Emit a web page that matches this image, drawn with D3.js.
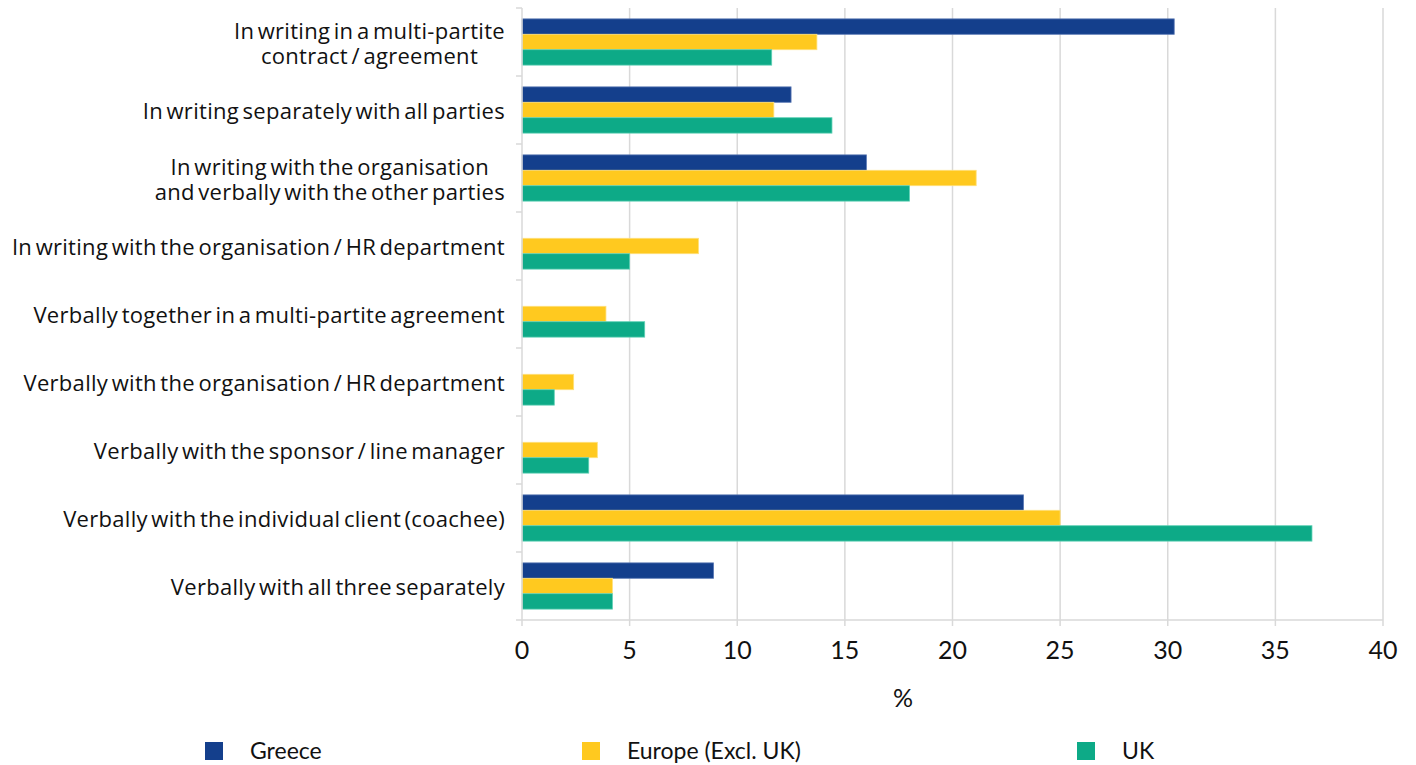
<!DOCTYPE html>
<html>
<head>
<meta charset="utf-8">
<script src="https://cdn.jsdelivr.net/npm/d3@7"></script>
<style>
  body { margin: 0; background: #fff; }
  svg text { fill: #111; }
</style>
</head>
<body>
<div id="viz"></div>
<script>
var categories = [
  "In writing in a multi-partite|contract / agreement",
  "In writing separately with all parties",
  "In writing with the organisation|and verbally with the other parties",
  "In writing with the organisation / HR department",
  "Verbally together in a multi-partite agreement",
  "Verbally with the organisation / HR department",
  "Verbally with the sponsor / line manager",
  "Verbally with the individual client (coachee)",
  "Verbally with all three separately"
];
var seriesNames = ["Greece", "Europe (Excl. UK)", "UK"];
var greece = [30.3, 12.5, 16.0, null, null, null, null, 23.3, 8.9];
var europe = [13.7, 11.7, 21.1, 8.2, 3.9, 2.4, 3.5, 25.0, 4.2];
var uk     = [11.6, 14.4, 18.0, 5.0, 5.7, 1.5, 3.1, 36.7, 4.2];
var xTicks = [0, 5, 10, 15, 20, 25, 30, 35, 40];
var colors = ["#143f8c", "#ffc91f", "#0daa87"];
var strokes = ["#5a78b4", "#ffe07a", "#5fd0b5"];

var width = 1416, height = 765;
var plotLeft = 522, plotRight = 1383, plotTop = 8, plotBottom = 620;

var svg = d3.select("#viz").append("svg")
  .attr("width", width)
  .attr("height", height);

var x = d3.scaleLinear().domain([0, 40]).range([plotLeft, plotRight]);
var y = d3.scaleBand().domain(d3.range(categories.length))
  .range([plotTop, plotBottom]).paddingInner(0.32).paddingOuter(0.16);
var sub = d3.scaleBand().domain(d3.range(3)).range([0, y.bandwidth()]);

// grid
svg.append("g").selectAll("line")
  .data(xTicks.slice(1))
  .enter().append("line")
    .attr("x1", function(d) { return x(d); })
    .attr("x2", function(d) { return x(d); })
    .attr("y1", plotTop)
    .attr("y2", plotBottom)
    .attr("stroke", "#d9d9d9")
    .attr("stroke-width", 1.5);

var rows = [greece, europe, uk];
var bars = [];
rows.forEach(function(vals, s) {
  vals.forEach(function(v, i) {
    if (v != null) bars.push({s: s, i: i, v: v});
  });
});

svg.append("g").selectAll("rect")
  .data(bars)
  .enter().append("rect")
    .attr("x", x(0))
    .attr("y", function(d) { return y(d.i) + sub(d.s); })
    .attr("width", function(d) { return x(d.v) - x(0); })
    .attr("height", sub.bandwidth())
    .attr("fill", function(d) { return colors[d.s]; })
    .attr("stroke", function(d) { return strokes[d.s]; })
    .attr("stroke-width", 0.8);

// left axis
var yAxis = svg.append("g");
yAxis.append("line")
  .attr("x1", plotLeft).attr("x2", plotLeft)
  .attr("y1", plotTop).attr("y2", plotBottom)
  .attr("stroke", "#d9d9d9").attr("stroke-width", 1.5);
yAxis.selectAll(".tk")
  .data(d3.range(categories.length + 1))
  .enter().append("line")
    .attr("x1", plotLeft - 6).attr("x2", plotLeft)
    .attr("y1", function(d) { return plotTop + d * y.step(); })
    .attr("y2", function(d) { return plotTop + d * y.step(); })
    .attr("stroke", "#d9d9d9").attr("stroke-width", 1.5);

var labels = yAxis.selectAll(".lab")
  .data(categories)
  .enter().append("text")
    .attr("font-family", "'Open Sans', sans-serif")
    .attr("font-size", 22)
    .attr("letter-spacing", 0.3)
    .attr("word-spacing", -2.5)
    .attr("text-anchor", "middle");

labels.each(function(d, i) {
  var t = d3.select(this);
  var lines = d.split("|");
  var cy = y(i) + y.bandwidth() / 2;
  lines.forEach(function(l, k) {
    t.append("tspan")
      .attr("y", cy + (k - (lines.length - 1) / 2) * 25)
      .attr("dy", "0.42em")
      .text(l);
  });
  // right-align block on the widest line, center lines within it
  var w = d3.max(t.selectAll("tspan").nodes(), function(n) { return n.getComputedTextLength(); });
  t.selectAll("tspan").attr("x", 505 - w / 2);
});

// bottom axis
var xAxis = svg.append("g");
xAxis.append("line")
  .attr("x1", plotLeft).attr("x2", plotRight)
  .attr("y1", plotBottom).attr("y2", plotBottom)
  .attr("stroke", "#d9d9d9").attr("stroke-width", 1.5);
xAxis.selectAll(".tk")
  .data(xTicks)
  .enter().append("line")
    .attr("x1", function(d) { return x(d); })
    .attr("x2", function(d) { return x(d); })
    .attr("y1", plotBottom).attr("y2", plotBottom + 6)
    .attr("stroke", "#d9d9d9").attr("stroke-width", 1.5);
xAxis.selectAll("text")
  .data(xTicks)
  .enter().append("text")
    .attr("x", function(d) { return x(d); })
    .attr("y", 659)
    .attr("text-anchor", "middle")
    .attr("font-family", "Lato, sans-serif")
    .attr("font-size", 25)
    .text(function(d) { return d; });

svg.append("text")
  .attr("x", 903).attr("y", 707)
  .attr("text-anchor", "middle")
  .attr("font-family", "Lato, sans-serif")
  .attr("font-size", 25)
  .text("%");

// legend
var legX = [205, 582, 1077];
var leg = svg.append("g").selectAll("g")
  .data(seriesNames)
  .enter().append("g")
    .attr("transform", function(d, i) { return "translate(" + legX[i] + ",742)"; });
leg.append("rect")
  .attr("width", 18).attr("height", 18)
  .attr("fill", function(d, i) { return colors[i]; });
leg.append("text")
  .attr("x", 45).attr("y", 17)
  .attr("font-family", "Lato, sans-serif")
  .attr("font-size", 23)
  .text(function(d) { return d; });
</script>
</body>
</html>
